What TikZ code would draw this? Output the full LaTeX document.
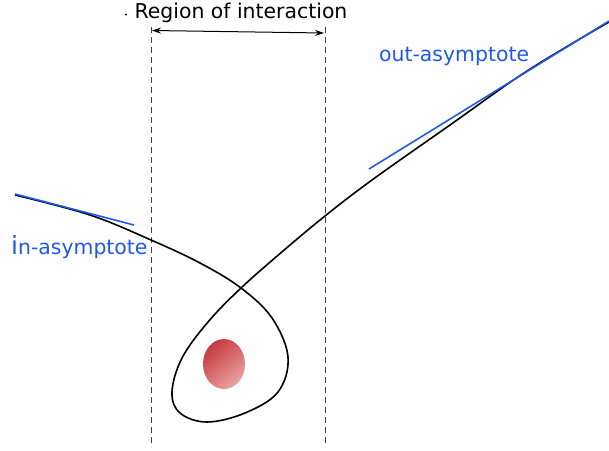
\documentclass[tikz,border=0pt]{standalone}
\usepackage{fontspec}
\setmainfont{DejaVu Sans}
\usetikzlibrary{arrows.meta}
\definecolor{asy}{RGB}{30,90,230}
\definecolor{reddark}{RGB}{198,58,62}
\definecolor{redlight}{RGB}{232,162,162}
\tikzset{
  guide/.style={draw=black!75, line width=0.8pt, dash pattern=on 6pt off 4pt},
  orbit/.style={draw=black, line width=1.6pt},
  asyline/.style={draw=asy, line width=1.6pt},
  lbl/.style={font=\fontsize{20.4}{24}\selectfont, anchor=base west, inner sep=0pt},
}
\begin{document}
\begin{tikzpicture}[x=1pt,y=-1pt]
\path[use as bounding box] (0,0) rectangle (609,450);
% guides
\coordinate (g1t) at (151,27); \coordinate (g1b) at (151,447);
\coordinate (g2t) at (325,27); \coordinate (g2b) at (325,447);
\draw[guide] (g1t) -- (g1b);
\draw[guide] (g2t) -- (g2b);
\coordinate (aL) at (152,30.5); \coordinate (aR) at (324,33);
\draw[line width=1pt, {Stealth[length=9pt,width=6pt]}-{Stealth[length=9pt,width=6pt]}] (aL) -- (aR);
\node[lbl, anchor=base] (reg) at (241,18) {Region of interaction};
\fill (126,14.5) circle (1.1);
% red body
\shade[top color=reddark, bottom color=redlight, shading angle=40] (224,364) ellipse (21 and 25);
% orbit
\draw[orbit] plot[smooth, tension=0.6] coordinates {
 (15,195) (90,215) (151,240) (200,263) (241,288) (272,318) (288,357)
 (278,392) (245,413) (207,422) (180,413) (172,392) (182,358) (208,322)
 (241,288) (283,251) (325,216) (372,180) (450,125) (527,71) (609,22)};
% asymptotes
\coordinate (i1) at (15,194); \coordinate (i2) at (134,225);
\coordinate (o1) at (369,169); \coordinate (o2) at (609,21);
\draw[asyline] (i1) -- (i2);
\draw[asyline] (o1) -- (o2);
\node[lbl, text=asy] (out) at (379,61) {out-asymptote};
\node[lbl, text=asy] (in) at (11,254) {{\fontsize{25}{28}\selectfont i}n-asymptote};
\end{tikzpicture}
\end{document}
